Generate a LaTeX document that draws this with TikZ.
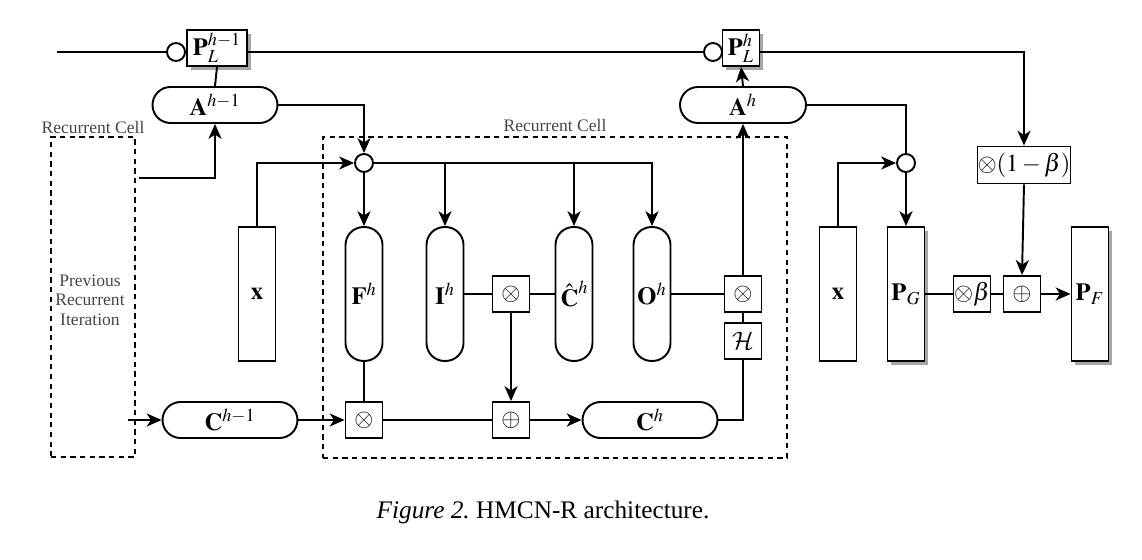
\documentclass[tikz,border=0pt]{standalone}
\usepackage{mathptmx}
\DeclareMathAlphabet{\mathcal}{OMS}{cmsy}{m}{n}
\usepackage{fontspec}
\setmainfont{Liberation Serif}
\usetikzlibrary{arrows.meta,shadows}
\definecolor{lbl}{RGB}{70,70,70}
\tikzset{
  >={Stealth[length=8.5pt,width=7.5pt,inset=2.5pt]},
  conn/.style={draw, line width=1.1pt},
  base/.style={draw, fill=white, line width=1.1pt, inner sep=0pt, font=\fontsize{14}{16}\selectfont},
  shd/.style={drop shadow={shadow xshift=2pt, shadow yshift=-2pt, opacity=0.35, fill=black}},
  box/.style={base, minimum width=0.74cm, minimum height=0.72cm},
  sbox/.style={box, shd},
  tall/.style={base, minimum width=0.74cm, minimum height=2.68cm},
  stall/.style={tall, shd},
  gate/.style={tall, rounded corners=0.36cm},
  pill/.style={base, minimum width=2.7cm, minimum height=0.72cm, rounded corners=0.36cm},
  dot/.style={draw, fill=white, circle, line width=1.1pt, minimum size=0.36cm, inner sep=0pt},
  cell/.style={draw, dashed, dash pattern=on 3pt off 2.5pt, line width=1.2pt, inner sep=0pt},
  lab/.style={text=lbl, font=\fontsize{10}{12}\selectfont, align=center},
}
\begin{document}
\begin{tikzpicture}[x=0.02cm, y=-0.02cm, line width=1.1pt]
\useasboundingbox (0,0) rectangle (1142,560);
% containers
\node[cell, minimum width=1.68cm, minimum height=6.4cm] (prev) at (93,297) {};
\node[cell, minimum width=9.28cm, minimum height=6.42cm] (rc) at (555,297.5) {};
\node[lab] (prevlab) at (93,127) {Recurrent Cell};
\node[lab] (rclab) at (555,125) {Recurrent Cell};
\node[lab, font=\fontsize{10}{11}\selectfont] (prevtxt) at (90,300) {Previous\\Recurrent\\Iteration};
% top row
\coordinate (start) at (57,52);
\node[dot] (c1) at (176,52) {};
\node[sbox, minimum width=1.2cm] (PL1) at (217,48) {$\mathbf{P}_L^{h-1}$};
\node[dot] (c2) at (713,52) {};
\node[sbox] (PL2) at (741,48) {$\mathbf{P}_L^{h}$};
\node[pill, minimum width=2.5cm] (A1) at (215,105) {$\mathbf{A}^{h-1}$};
\node[pill, minimum width=2.52cm] (A2) at (743,105) {$\mathbf{A}^{h}$};
\node[dot] (m1) at (364,163) {};
\node[dot] (m2) at (906,163) {};
\node[box, minimum width=1.62cm, minimum height=0.74cm] (om) at (1024,165) {$\otimes(1-\beta)$};
% middle row
\node[tall] (x1) at (257,294) {$\mathbf{x}$};
\node[gate] (F) at (364,294) {$\mathbf{F}^h$};
\node[gate] (I) at (445,294) {$\mathbf{I}^h$};
\node[box] (mI) at (511,294) {$\otimes$};
\node[gate] (Ch) at (574,294) {$\hat{\mathbf{C}}\raisebox{7pt}{$\scriptstyle h$}$};
\node[gate] (O) at (652,294) {$\mathbf{O}^h$};
\node[box] (mO) at (743,294) {$\otimes$};
\node[box] (H) at (743,341) {$\mathcal{H}$};
\node[tall] (x2) at (838,294) {$\mathbf{x}$};
\node[stall] (PG) at (906,294) {$\mathbf{P}_G$};
\node[box] (mb) at (972,294) {$\otimes\beta$};
\node[box] (pB) at (1022,294) {$\oplus$};
\node[stall] (PF) at (1090,294) {$\mathbf{P}_F$};
% bottom row
\node[pill] (C1) at (230,420) {$\mathbf{C}^{h-1}$};
\node[box] (mA) at (364,420) {$\otimes$};
\node[box] (pA) at (511,420) {$\oplus$};
\node[pill] (C2) at (650,420) {$\mathbf{C}^{h}$};
\coordinate (cin) at (128,420);
\coordinate (ain) at (139,178);
% caption
\node[font=\fontsize{14.4}{17}\selectfont] (cap) at (543,512) {\textit{Figure 2.}\ HMCN-R architecture.};
% connectors
\draw[conn] (start) -- (c1.west);
\draw[conn] (c1.east) -- (PL1.west |- c1);
\draw[conn] (PL1.east |- c1) -- (c2.west);
\draw[conn] (c2.east) -- (PL2.west |- c2);
\draw[conn,->] (PL2.east |- c2) -| (om.north);
\draw[conn] (PL1.south) -- (A1.north);
\draw[conn,->] (A1.east) -| (m1.north);
\draw[conn,->] (ain) -| (A1.south);
\draw[conn,->] (x1.north) |- (m1.west);
\draw[conn,->] (m1.south) -- (F.north);
\draw[conn,->] (m1.east) -| (O.north);
\draw[conn,->] (I.north |- m1) -- (I.north);
\draw[conn,->] (Ch.north |- m1) -- (Ch.north);
\draw[conn] (F.south) -- (mA.north);
\draw[conn,->] (cin) -- (C1.west);
\draw[conn,->] (C1.east) -- (mA.west);
\draw[conn] (mA.east) -- (pA.west);
\draw[conn] (I.east |- mI) -- (mI.west);
\draw[conn] (mI.east) -- (Ch.west |- mI);
\draw[conn,->] (mI.south) -- (pA.north);
\draw[conn,->] (pA.east) -- (C2.west);
\draw[conn] (C2.east) -| (H.south);
\draw[conn] (H.north) -- (mO.south);
\draw[conn] (O.east |- mO) -- (mO.west);
\draw[conn,->] (mO.north) -- (A2.south);
\draw[conn,->] (A2.north) -- (PL2.south);
\draw[conn] (A2.east) -| (m2.north);
\draw[conn,->] (x2.north) |- (m2.west);
\draw[conn,->] (m2.south) -- (PG.north);
\draw[conn] (PG.east |- mb) -- (mb.west);
\draw[conn] (mb.east) -- (pB.west);
\draw[conn,->] (om.south) -- (pB.north);
\draw[conn,->] (pB.east) -- (PF.west |- pB);
\end{tikzpicture}
\end{document}
